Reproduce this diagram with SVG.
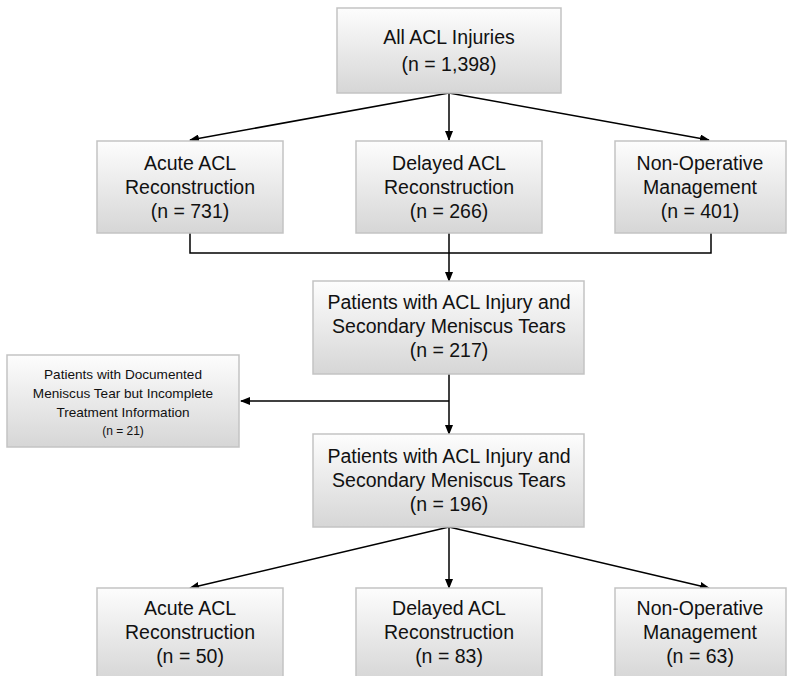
<svg xmlns="http://www.w3.org/2000/svg" width="791" height="676" viewBox="0 0 791 676">
<defs>
<linearGradient id="g" x1="0" y1="0" x2="0" y2="1">
<stop offset="0" stop-color="#fdfdfd"/>
<stop offset="1" stop-color="#d6d6d6"/>
</linearGradient>
<marker id="ah" markerWidth="10" markerHeight="8" refX="9" refY="4" orient="auto" markerUnits="userSpaceOnUse">
<path d="M0,0 L10,4 L0,8 Z" fill="#000"/>
</marker>
</defs>
<style>
.box{fill:url(#g);stroke:#c3c3c3;stroke-width:1.5}
.t{font-family:"Liberation Sans",Arial,sans-serif;font-size:19.5px;fill:#111;text-anchor:middle}
.s{font-family:"Liberation Sans",Arial,sans-serif;font-size:13.6px;fill:#111;text-anchor:middle}
.xs{font-family:"Liberation Sans",Arial,sans-serif;font-size:12px;fill:#111;text-anchor:middle}
.c{fill:none;stroke:#000;stroke-width:1.5}
.a{fill:none;stroke:#000;stroke-width:1.5;marker-end:url(#ah)}
</style>
<rect width="791" height="676" fill="#fff"/>
<g id="connectors">
<line class="a" x1="449" y1="93" x2="190" y2="140"/>
<line class="a" x1="449" y1="93" x2="449" y2="140"/>
<line class="a" x1="449" y1="93" x2="709" y2="140"/>
<polyline class="c" points="190,233 190,253 711,253 711,233"/>
<line class="c" x1="449" y1="233" x2="449" y2="253"/>
<line class="a" x1="449" y1="253" x2="449" y2="281"/>
<line class="a" x1="449" y1="374" x2="449" y2="434"/>
<line class="a" x1="449" y1="401" x2="241" y2="401"/>
<line class="a" x1="449" y1="527" x2="190" y2="588"/>
<line class="a" x1="449" y1="527" x2="449" y2="588"/>
<line class="a" x1="449" y1="527" x2="709" y2="588"/>
</g>
<g id="all">
<rect class="box" x="337" y="8" width="224" height="85"/>
<text class="t" x="449" y="44">All ACL Injuries</text>
<text class="t" x="449" y="71">(n = 1,398)</text>
</g>
<g id="acute1">
<rect class="box" x="97" y="141" width="186" height="92"/>
<text class="t" x="190" y="170">Acute ACL</text>
<text class="t" x="190" y="194">Reconstruction</text>
<text class="t" x="190" y="218">(n = 731)</text>
</g>
<g id="delayed1">
<rect class="box" x="356" y="141" width="186" height="92"/>
<text class="t" x="449" y="170">Delayed ACL</text>
<text class="t" x="449" y="194">Reconstruction</text>
<text class="t" x="449" y="218">(n = 266)</text>
</g>
<g id="nonop1">
<rect class="box" x="615" y="141" width="171" height="92"/>
<text class="t" x="700" y="170">Non-Operative</text>
<text class="t" x="700" y="194">Management</text>
<text class="t" x="700" y="218">(n = 401)</text>
</g>
<g id="meniscus217">
<rect class="box" x="313" y="281" width="271" height="93"/>
<text class="t" x="449" y="309">Patients with ACL Injury and</text>
<text class="t" x="449" y="333">Secondary Meniscus Tears</text>
<text class="t" x="449" y="357">(n = 217)</text>
</g>
<g id="incomplete">
<rect class="box" x="7" y="355" width="232" height="92"/>
<text class="s" x="123" y="379">Patients with Documented</text>
<text class="s" x="123" y="398">Meniscus Tear but Incomplete</text>
<text class="s" x="123" y="417">Treatment Information</text>
<text class="xs" x="123" y="435">(n = 21)</text>
</g>
<g id="meniscus196">
<rect class="box" x="313" y="434" width="271" height="93"/>
<text class="t" x="449" y="463">Patients with ACL Injury and</text>
<text class="t" x="449" y="487">Secondary Meniscus Tears</text>
<text class="t" x="449" y="511">(n = 196)</text>
</g>
<g id="acute2">
<rect class="box" x="97" y="588" width="186" height="92"/>
<text class="t" x="190" y="615">Acute ACL</text>
<text class="t" x="190" y="639">Reconstruction</text>
<text class="t" x="190" y="663">(n = 50)</text>
</g>
<g id="delayed2">
<rect class="box" x="356" y="588" width="186" height="92"/>
<text class="t" x="449" y="615">Delayed ACL</text>
<text class="t" x="449" y="639">Reconstruction</text>
<text class="t" x="449" y="663">(n = 83)</text>
</g>
<g id="nonop2">
<rect class="box" x="615" y="588" width="171" height="92"/>
<text class="t" x="700" y="615">Non-Operative</text>
<text class="t" x="700" y="639">Management</text>
<text class="t" x="700" y="663">(n = 63)</text>
</g>
</svg>
